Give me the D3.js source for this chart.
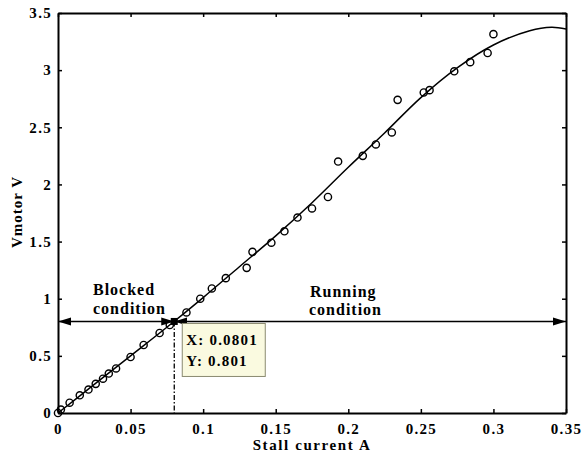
<!DOCTYPE html>
<html>
<head>
<meta charset="utf-8">
<script src="https://cdn.jsdelivr.net/npm/d3@7"></script>
<style>
  body { margin: 0; background: #fff; }
  text { font-family: "Liberation Serif", "Times New Roman", serif; font-weight: bold; }
</style>
</head>
<body>
<script>
var width = 584;
var height = 457;
var margin = {top: 13, right: 18, bottom: 44, left: 58};

// measured points (stall current A, Vmotor V)
var measX = [0.0, 0.002, 0.008, 0.015, 0.021, 0.026, 0.031, 0.035, 0.040, 0.050, 0.059, 0.070, 0.077,
             0.0885, 0.098, 0.106, 0.1156, 0.130, 0.134, 0.147, 0.156, 0.165, 0.175, 0.186, 0.193,
             0.210, 0.219, 0.230, 0.234, 0.252, 0.256, 0.273, 0.284, 0.296, 0.300];
var measY = [0.0, 0.03, 0.09, 0.155, 0.205, 0.255, 0.30, 0.345, 0.39, 0.49, 0.595, 0.70, 0.77,
             0.88, 1.0, 1.09, 1.18, 1.27, 1.41, 1.49, 1.59, 1.71, 1.79, 1.89, 2.20,
             2.25, 2.35, 2.455, 2.74, 2.805, 2.825, 2.99, 3.07, 3.15, 3.315];

// fitted curve
var fitX = [0, 0.025, 0.05, 0.075, 0.1, 0.125, 0.15, 0.175, 0.2, 0.225, 0.25, 0.275, 0.3, 0.325, 0.34, 0.35];
var fitY = [0, 0.25, 0.50, 0.75, 1.01, 1.28, 1.55, 1.84, 2.15, 2.45, 2.76, 3.02, 3.22, 3.345, 3.375, 3.36];

var xTicks = [0, 0.05, 0.1, 0.15, 0.2, 0.25, 0.3, 0.35];
var xLabels = ["0", "0.05", "0.1", "0.15", "0.2", "0.25", "0.3", "0.35"];
var yTicks = [0, 0.5, 1, 1.5, 2, 2.5, 3, 3.5];
var yLabels = ["0", "0.5", "1", "1.5", "2", "2.5", "3", "3.5"];

var tipX = 0.0801, tipY = 0.801;

var x = d3.scaleLinear().domain([0, 0.35]).range([margin.left, width - margin.right]);
var y = d3.scaleLinear().domain([0, 3.5]).range([height - margin.bottom, margin.top]);

var svg = d3.select("body").append("svg")
    .attr("width", width)
    .attr("height", height);

var defs = svg.append("defs");
defs.append("marker")
    .attr("id", "arr")
    .attr("markerUnits", "userSpaceOnUse")
    .attr("viewBox", "0 -5 14 10")
    .attr("refX", 13).attr("refY", 0)
    .attr("markerWidth", 14).attr("markerHeight", 10)
    .attr("orient", "auto-start-reverse")
    .append("path")
    .attr("d", "M0,-4L13,0L0,4Z")
    .attr("fill", "#000");

// axes
var xAxis = d3.axisBottom(x).tickValues(xTicks).tickFormat(function(d, i) { return xLabels[i]; })
    .tickSizeInner(-4).tickSizeOuter(0).tickPadding(10);
var yAxis = d3.axisLeft(y).tickValues(yTicks).tickFormat(function(d, i) { return yLabels[i]; })
    .tickSizeInner(-4).tickSizeOuter(0).tickPadding(6);

var gx = svg.append("g").attr("transform", "translate(0," + (height - margin.bottom) + ")").call(xAxis);
var gy = svg.append("g").attr("transform", "translate(" + margin.left + ",0)").call(yAxis);
var gt = svg.append("g").attr("transform", "translate(0," + margin.top + ")")
    .call(d3.axisTop(x).tickValues(xTicks).tickFormat("").tickSizeInner(-4).tickSizeOuter(0));
var gr = svg.append("g").attr("transform", "translate(" + (width - margin.right) + ",0)")
    .call(d3.axisRight(y).tickValues(yTicks).tickFormat("").tickSizeInner(-4).tickSizeOuter(0));

[gx, gy, gt, gr].forEach(function(g) {
    g.select(".domain").attr("stroke", "#000").attr("stroke-width", 2);
    g.selectAll(".tick line").attr("stroke", "#000").attr("stroke-width", 1.5);
    g.selectAll("text").attr("font-size", 15).attr("fill", "#000")
        .style("font-family", "'Liberation Serif', serif").style("font-weight", "bold")
        .style("letter-spacing", "1.3px");
});

// fitted curve
var line = d3.line()
    .x(function(d) { return x(d[0]); })
    .y(function(d) { return y(d[1]); })
    .curve(d3.curveCatmullRom);

svg.append("path")
    .datum(fitX.map(function(v, i) { return [v, fitY[i]]; }))
    .attr("d", line)
    .attr("fill", "none")
    .attr("stroke", "#000")
    .attr("stroke-width", 1.5);

// measured circles
svg.append("g").selectAll("circle")
    .data(measX.map(function(v, i) { return [v, measY[i]]; }))
    .enter()
    .append("circle")
    .attr("cx", function(d) { return x(d[0]); })
    .attr("cy", function(d) { return y(d[1]); })
    .attr("r", 3.6)
    .attr("fill", "none")
    .attr("stroke", "#000")
    .attr("stroke-width", 1.4);

// vertical dash-dot line at the data tip
svg.append("line")
    .attr("x1", x(tipX)).attr("x2", x(tipX))
    .attr("y1", y(tipY)).attr("y2", y(0))
    .attr("stroke", "#000")
    .attr("stroke-width", 1.3)
    .attr("stroke-dasharray", "5,2,1.5,2");

// double arrows: blocked and running
svg.append("line")
    .attr("x1", x(tipX)).attr("x2", x(0))
    .attr("y1", y(tipY)).attr("y2", y(tipY))
    .attr("stroke", "#000").attr("stroke-width", 1.6)
    .attr("marker-start", "url(#arr)").attr("marker-end", "url(#arr)");
svg.append("line")
    .attr("x1", x(tipX)).attr("x2", x(0.35))
    .attr("y1", y(tipY)).attr("y2", y(tipY))
    .attr("stroke", "#000").attr("stroke-width", 1.6)
    .attr("marker-start", "url(#arr)").attr("marker-end", "url(#arr)");

svg.append("rect")
    .attr("x", x(tipX) - 3.5).attr("y", y(tipY) - 3.5)
    .attr("width", 7).attr("height", 7)
    .attr("fill", "#000");

// data tip box
var tip = svg.append("g").attr("transform", "translate(" + (x(tipX) + 8) + "," + (y(tipY) + 2) + ")");
tip.append("rect")
    .attr("width", 83).attr("height", 53)
    .attr("fill", "#fafae0")
    .attr("stroke", "#8a8a70")
    .attr("stroke-width", 1);
tip.append("text").attr("x", 4).attr("y", 22).attr("font-size", 15)
    .style("letter-spacing", "1.2px").text("X: 0.0801");
tip.append("text").attr("x", 4).attr("y", 43).attr("font-size", 15)
    .style("letter-spacing", "1.2px").text("Y: 0.801");

// region labels
var lab = svg.append("g").style("letter-spacing", "1px").attr("font-size", 16);
lab.append("text").attr("x", 93).attr("y", 295).text("Blocked");
lab.append("text").attr("x", 93).attr("y", 314).text("condition");
lab.append("text").attr("x", 310).attr("y", 297).text("Running");
lab.append("text").attr("x", 309).attr("y", 315).text("condition");

// axis titles
svg.append("text")
    .attr("x", 312)
    .attr("y", 450)
    .attr("text-anchor", "middle")
    .attr("font-size", 15)
    .style("letter-spacing", "1.6px")
    .text("Stall current A");
svg.append("text")
    .attr("transform", "translate(22,212) rotate(-90)")
    .attr("text-anchor", "middle")
    .attr("font-size", 15)
    .style("letter-spacing", "1px")
    .text("Vmotor V");
</script>
</body>
</html>
